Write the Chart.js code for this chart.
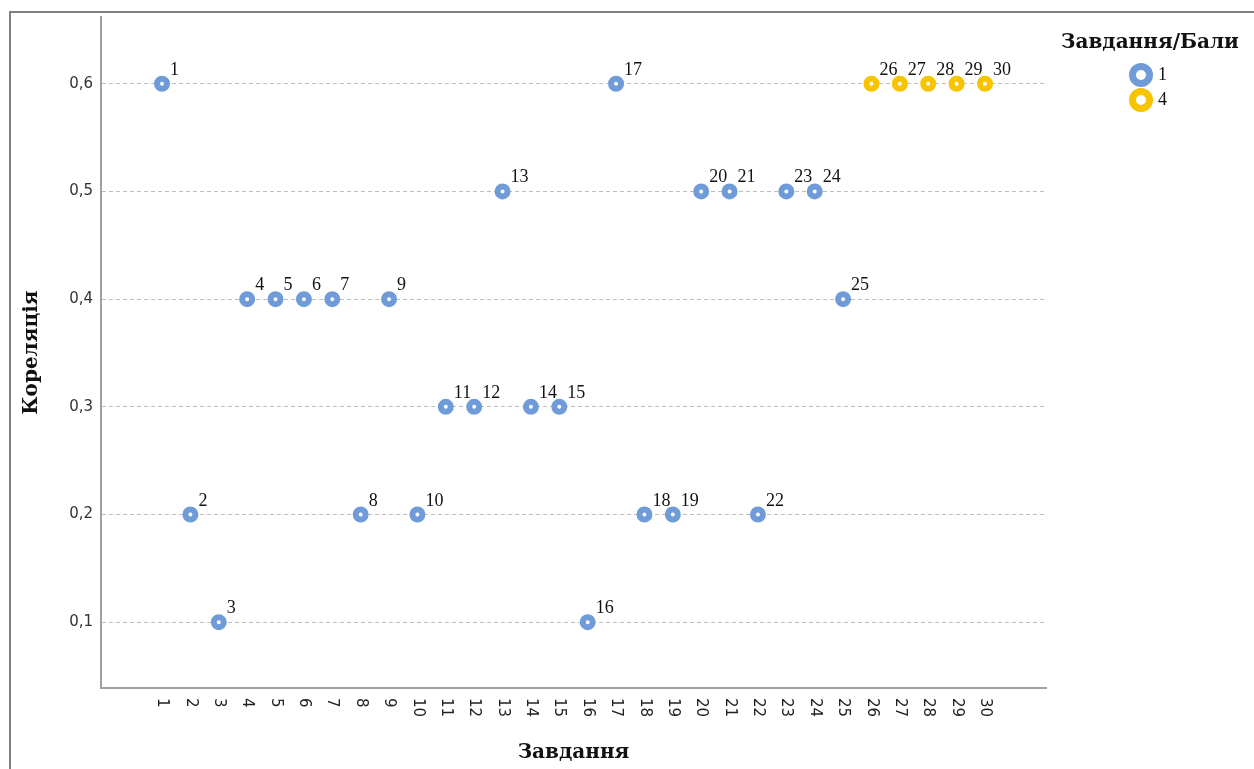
<!DOCTYPE html>
<html>
<head>
    <meta charset="UTF-8" />
    <title>Кореляція завдань</title>
    <script src="https://cdn.jsdelivr.net/npm/chart.js"></script>
    <style>
        body { margin: 0; background: #fff; overflow: hidden; }
        #wrap { position: relative; width: 1254px; height: 769px; }
        #frame {
            position: absolute; left: 9px; top: 11px; width: 1300px; height: 800px;
            border-left: 2px solid #808080; border-top: 2px solid #808080;
        }
        #chartBox { position: absolute; left: 0; top: 0; width: 1254px; height: 769px; }
        #legend { position: absolute; left: 1046px; top: 28px; width: 208px; color: #111; }
        #legend .title {
            text-align: center; font: bold 20px "DejaVu Serif", serif; line-height: 26px;
        }
        #legend ul { list-style: none; margin: 8px 0 0 0; padding: 0; }
        #legend li {
            display: flex; align-items: center; height: 25px; margin-left: 83px;
            font: 18px "Liberation Serif", serif;
        }
        #legend .ring {
            box-sizing: border-box; width: 24px; height: 24px; border-radius: 50%;
            border: 7px solid; background: #fff; margin-right: 5px;
        }
    </style>
</head>
<body>
<div id="wrap">
    <div id="frame"></div>
    <div id="chartBox"><canvas id="corrChart"></canvas></div>
    <div id="legend"></div>
</div>

<script type="text/javascript">
    // номер завдання, кореляція, бал
    const tasks = [1, 2, 3, 4, 5, 6, 7, 8, 9, 10, 11, 12, 13, 14, 15,
                   16, 17, 18, 19, 20, 21, 22, 23, 24, 25, 26, 27, 28, 29, 30];
    const correlation = [0.6, 0.2, 0.1, 0.4, 0.4, 0.4, 0.4, 0.2, 0.4, 0.2, 0.3, 0.3, 0.5, 0.3, 0.3,
                         0.1, 0.6, 0.2, 0.2, 0.5, 0.5, 0.2, 0.5, 0.5, 0.4, 0.6, 0.6, 0.6, 0.6, 0.6];
    const scores = [1, 1, 1, 1, 1, 1, 1, 1, 1, 1, 1, 1, 1, 1, 1,
                    1, 1, 1, 1, 1, 1, 1, 1, 1, 1, 4, 4, 4, 4, 4];
    const scoreGroups = [1, 4];
    const groupColors = ['#6f9cd9', '#f8c300'];
    const yTickValues = [0.1, 0.2, 0.3, 0.4, 0.5, 0.6];

    const datasets = scoreGroups.map((g, i) => ({
        label: String(g),
        data: tasks.filter((t, k) => scores[k] === g)
                   .map(t => ({ x: t, y: correlation[tasks.indexOf(t)] })),
        pointRadius: 5,
        pointBorderWidth: 6,
        pointBackgroundColor: '#fff',
        pointBorderColor: groupColors[i],
        pointHoverRadius: 5
    }));

    // підписи біля точок
    const pointLabels = {
        id: 'pointLabels',
        afterDatasetsDraw(chart) {
            const ctx = chart.ctx;
            ctx.save();
            ctx.font = '18px "Liberation Serif"';
            ctx.fillStyle = '#111';
            ctx.textBaseline = 'alphabetic';
            chart.data.datasets.forEach((ds, i) => {
                chart.getDatasetMeta(i).data.forEach((pt, j) => {
                    ctx.fillText(String(ds.data[j].x), pt.x + 8, pt.y - 9);
                });
            });
            ctx.restore();
        }
    };

    // підписи осі X, повернуті за годинниковою стрілкою
    const xTickLabels = {
        id: 'xTickLabels',
        afterDraw(chart) {
            const sc = chart.scales.x;
            const ctx = chart.ctx;
            ctx.save();
            ctx.font = '15px "DejaVu Sans"';
            ctx.fillStyle = '#222';
            ctx.textAlign = 'left';
            ctx.textBaseline = 'middle';
            sc.ticks.forEach(t => {
                ctx.save();
                ctx.translate(sc.getPixelForValue(t.value), sc.top + 10);
                ctx.rotate(Math.PI / 2);
                ctx.fillText(String(t.value), 0, 0);
                ctx.restore();
            });
            ctx.restore();
        }
    };

    const htmlLegend = {
        id: 'htmlLegend',
        afterUpdate(chart) {
            const box = document.getElementById('legend');
            const items = Chart.defaults.plugins.legend.labels.generateLabels(chart);
            let html = '<div class="title">Завдання/Бали</div><ul>';
            items.forEach((it, i) => {
                html += '<li><span class="ring" style="border-color:' + groupColors[i] + '"></span>' + it.text + '</li>';
            });
            box.innerHTML = html + '</ul>';
        }
    };

    const ctx = document.getElementById('corrChart').getContext('2d');
    const corrChart = new Chart(ctx, {
        type: 'scatter',
        data: { datasets: datasets },
        options: {
            responsive: true,
            maintainAspectRatio: false,
            animation: false,
            events: [],
            layout: { padding: { left: 10, top: 15, right: 208, bottom: 0 } },
            plugins: {
                legend: { display: false },
                tooltip: { enabled: false }
            },
            scales: {
                x: {
                    type: 'linear',
                    min: -1.15,
                    max: 32.15,
                    afterBuildTicks: sc => { sc.ticks = tasks.map(v => ({ value: v })); },
                    afterFit: sc => { sc.height = 81; },
                    ticks: { display: false },
                    grid: { display: false, drawTicks: false },
                    border: { display: true, color: '#a0a0a0', width: 2 },
                    title: {
                        display: true,
                        text: 'Завдання',
                        color: '#111',
                        font: { family: 'DejaVu Serif', size: 20, weight: 'bold' },
                        padding: { top: 0, bottom: 4 }
                    }
                },
                y: {
                    min: 0.0389,
                    max: 0.662,
                    afterBuildTicks: sc => { sc.ticks = yTickValues.map(v => ({ value: v })); },
                    afterFit: sc => { sc.width = 91; },
                    ticks: {
                        padding: 8,
                        color: '#333',
                        font: { family: 'DejaVu Sans', size: 15 },
                        callback: v => v.toFixed(1).replace('.', ',')
                    },
                    grid: { display: true, drawTicks: false, color: '#bdbdbd', lineWidth: 1 },
                    border: { display: true, color: '#a0a0a0', width: 2, dash: [4, 3] },
                    title: {
                        display: true,
                        text: 'Кореляція',
                        color: '#111',
                        font: { family: 'DejaVu Serif', size: 20, weight: 'bold' },
                        padding: { top: 10, bottom: 0 }
                    }
                }
            }
        },
        plugins: [pointLabels, xTickLabels, htmlLegend]
    });
</script>
</body>
</html>
